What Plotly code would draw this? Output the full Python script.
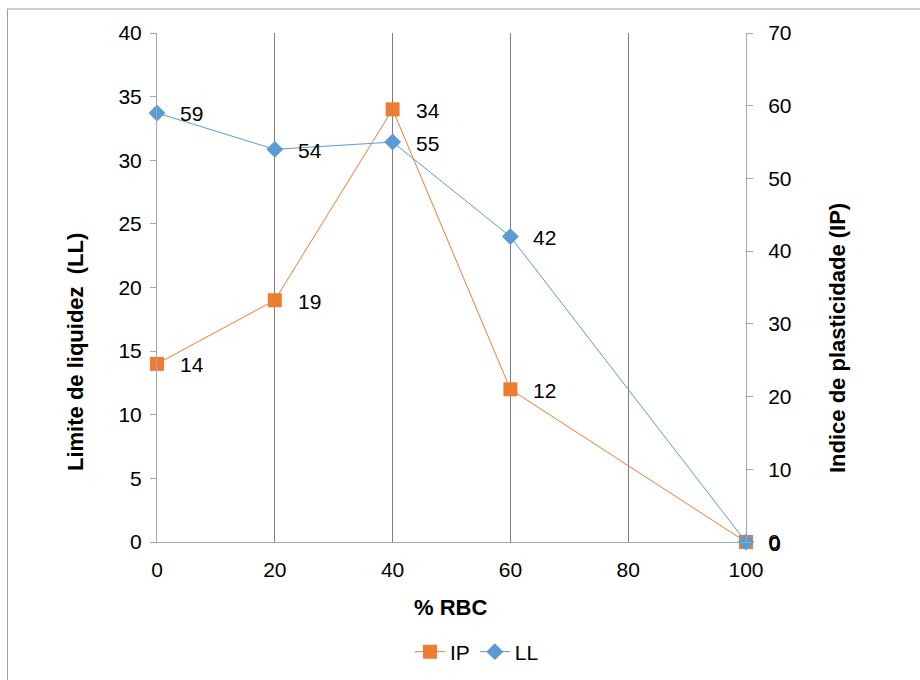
import plotly.graph_objects as go

# % RBC content and the two soil indices
rbc = [0, 20, 40, 60, 100]
ip_values = [14, 19, 34, 12, 0]   # orange, left axis
ll_values = [59, 54, 55, 42, 0]   # blue, right axis

x_ticks = [0, 20, 40, 60, 80, 100]
left_ticks = [0, 5, 10, 15, 20, 25, 30, 35, 40]
right_ticks = [0, 10, 20, 30, 40, 50, 60, 70]

ORANGE = "#ED7D31"
BLUE = "#5B9BD5"
FONT = "Liberation Sans, Arial, sans-serif"
TICK_SIZE = 21
TITLE_SIZE = 22

# plot area in pixels
L, R, T, B = 157, 174, 33, 138
plot_w, plot_h = 920 - L - R, 680 - T - B
def px_x(px):
    return (px - L) / plot_w
def px_y(py):
    return (680 - B - py) / plot_h

fig = go.Figure()

fig.add_trace(go.Scatter(
    x=rbc, y=ip_values, name="IP", mode="lines+markers",
    line=dict(color=ORANGE, width=1),
    marker=dict(symbol="square", size=14, color=ORANGE),
    cliponaxis=False,
))

fig.add_trace(go.Scatter(
    x=rbc, y=ll_values, name="LL", mode="lines+markers",
    yaxis="y2",
    line=dict(color=BLUE, width=1),
    marker=dict(symbol="diamond", size=13, color=BLUE),
    cliponaxis=False,
))

# value labels to the right of each point
for xs, ys, yref in ((rbc, ip_values, "y"), (rbc, ll_values, "y2")):
    for xv, yv in zip(xs, ys):
        fig.add_annotation(
            x=xv, y=yv, xref="x", yref=yref, text=str(yv),
            showarrow=False, xanchor="left", yanchor="middle",
            xshift=21, yshift=-1,
            font=dict(size=TICK_SIZE, color="#000000", family=FONT),
        )

# axis titles
fig.add_annotation(x=px_x(75), y=px_y(352), xref="paper", yref="paper",
                   text="<b>Limite de liquidez  (LL)</b>", textangle=-90,
                   showarrow=False, xanchor="center", yanchor="middle",
                   font=dict(size=TITLE_SIZE, family=FONT, color="#000000"))
fig.add_annotation(x=px_x(837), y=px_y(338), xref="paper", yref="paper",
                   text="<b>Indice de plasticidade (IP)</b>", textangle=-90,
                   showarrow=False, xanchor="center", yanchor="middle",
                   font=dict(size=TITLE_SIZE, family=FONT, color="#000000"))
fig.add_annotation(x=px_x(450), y=px_y(607), xref="paper", yref="paper",
                   text="<b>% RBC</b>",
                   showarrow=False, xanchor="center", yanchor="middle",
                   font=dict(size=TITLE_SIZE, family=FONT, color="#000000"))

axis_line = "#A6A6A6"

fig.update_layout(
    width=920, height=680,
    margin=dict(l=L, r=R, t=T, b=B, autoexpand=False),
    paper_bgcolor="white", plot_bgcolor="white",
    font=dict(family=FONT, size=TICK_SIZE, color="#000000"),
    showlegend=True,
    legend=dict(
        orientation="h", x=px_x(477), xanchor="center", y=px_y(652), yanchor="middle",
        font=dict(size=TICK_SIZE), traceorder="normal",
    ),
    xaxis=dict(
        range=[0, 100], tickvals=x_ticks, ticktext=[str(t) for t in x_ticks],
        showgrid=True, gridcolor="#7F7F7F", gridwidth=1,
        showline=True, linecolor=axis_line, linewidth=1,
        ticks="", zeroline=False, ticklabelstandoff=9, automargin=False,
        tickfont=dict(size=TICK_SIZE),
    ),
    yaxis=dict(
        range=[0, 40], tickvals=left_ticks,
        showgrid=False, zeroline=False, automargin=False,
        showline=True, linecolor=axis_line, linewidth=1,
        ticks="outside", ticklen=6, tickcolor=axis_line, ticklabelstandoff=4,
        tickfont=dict(size=TICK_SIZE),
    ),
    yaxis2=dict(
        range=[0, 70], tickvals=right_ticks, overlaying="y", side="right",
        showgrid=False, zeroline=False, automargin=False,
        showline=True, linecolor=axis_line, linewidth=1,
        ticks="outside", ticklen=6, tickcolor=axis_line, ticklabelstandoff=11,
        tickfont=dict(size=TICK_SIZE),
    ),
)

# chart frame (top and left edges)
fig.add_shape(type="line", xref="paper", yref="paper",
              x0=px_x(7), x1=px_x(925), y0=px_y(9), y1=px_y(9),
              line=dict(color="#A0A0A0", width=1))
fig.add_shape(type="line", xref="paper", yref="paper",
              x0=px_x(7.5), x1=px_x(7.5), y0=px_y(9), y1=px_y(690),
              line=dict(color="#A0A0A0", width=1))

fig.write_html("out.html")
